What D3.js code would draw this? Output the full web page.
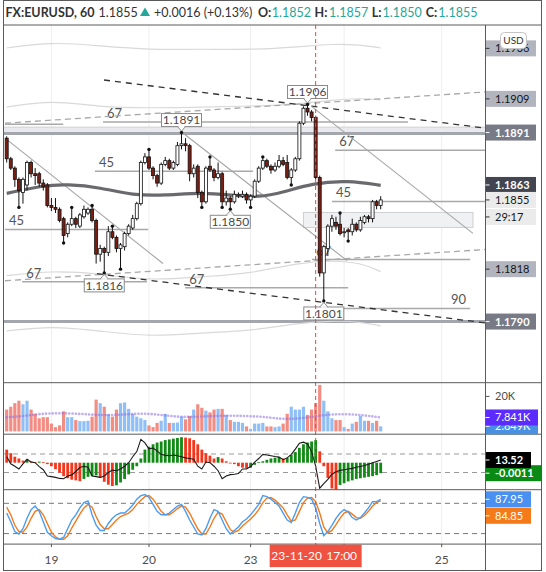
<!DOCTYPE html>
<html><head><meta charset="utf-8">
<script src="https://cdn.jsdelivr.net/npm/d3@7"></script>
<style>
body{margin:0;background:#fff;}
svg{display:block;font-family:Lato,"Open Sans",sans-serif;}
</style></head><body>
<svg id="chart" width="546" height="572"></svg>
<script>
// ---------------- DATA ----------------
const opens = [1.1888,1.1877,1.1872,1.1866,1.1859,1.1863,1.1875,1.1869,1.1869,1.1864,
1.1863,1.1852,1.1851,1.1850,1.1845,1.1837,1.1842,1.1845,1.1841,1.1846,
1.1848,1.1850,1.1844,1.1826,1.1829,1.1827,1.1838,1.1835,1.1829,1.1830,
1.1837,1.1840,1.1845,1.1853,1.1875,1.1878,1.1872,1.1868,1.1864,1.1874,
1.1876,1.1872,1.1874,1.1884,1.1885,1.1884,1.1869,1.1873,1.1859,1.1854,
1.1873,1.1871,1.1867,1.1869,1.1854,1.1856,1.1854,1.1858,1.1857,1.1858,
1.1855,1.1857,1.1865,1.1872,1.1876,1.1873,1.1871,1.1873,1.1876,1.1875,
1.1867,1.1871,1.1877,1.1896,1.1904,1.1902,1.1899,1.1867,1.1816,1.1829,
1.1841,1.1843,1.1842,1.1838,1.1839,1.1838,1.1842,1.1839,1.1843,1.1846,
1.1845,1.1854,1.1852];
const highs = [1.1889,1.1878,1.1873,1.1867,1.1867,1.1876,1.1876,1.1872,1.1870,1.1866,
1.1864,1.1856,1.1856,1.1851,1.1846,1.1843,1.1851,1.1846,1.1848,1.1852,
1.1851,1.1852,1.1845,1.1831,1.1830,1.1841,1.1841,1.1836,1.1832,1.1838,
1.1842,1.1847,1.1854,1.1876,1.1880,1.1882,1.1873,1.1869,1.1875,1.1878,
1.1877,1.1876,1.1886,1.1891,1.1888,1.1885,1.1874,1.1874,1.1860,1.1873,
1.1878,1.1872,1.1875,1.1870,1.1860,1.1857,1.1860,1.1859,1.1860,1.1859,
1.1858,1.1866,1.1873,1.1878,1.1877,1.1874,1.1875,1.1879,1.1878,1.1879,
1.1872,1.1878,1.1897,1.1905,1.1906,1.1903,1.1900,1.1868,1.1831,1.1842,
1.1847,1.1846,1.1848,1.1840,1.1840,1.1845,1.1843,1.1846,1.1847,1.1847,
1.1855,1.1855,1.1857];
const lows = [1.1875,1.1871,1.1862,1.1851,1.1853,1.1860,1.1867,1.1863,1.1862,1.1860,
1.1851,1.1849,1.1848,1.1843,1.1832,1.1835,1.1841,1.1840,1.1840,1.1845,
1.1847,1.1843,1.1821,1.1822,1.1816,1.1825,1.1834,1.1827,1.1818,1.1828,
1.1836,1.1839,1.1844,1.1852,1.1874,1.1871,1.1866,1.1862,1.1863,1.1873,
1.1871,1.1871,1.1873,1.1882,1.1881,1.1865,1.1867,1.1856,1.1851,1.1853,
1.1870,1.1865,1.1866,1.1851,1.1852,1.1850,1.1853,1.1856,1.1856,1.1853,
1.1851,1.1856,1.1864,1.1871,1.1872,1.1869,1.1870,1.1872,1.1873,1.1866,
1.1863,1.1870,1.1876,1.1895,1.1900,1.1897,1.1866,1.1814,1.1801,1.1825,
1.1838,1.1839,1.1836,1.1835,1.1833,1.1836,1.1838,1.1838,1.1842,1.1843,
1.1843,1.1850,1.1850];
const closes = [1.1877,1.1872,1.1866,1.1860,1.1866,1.1875,1.1869,1.1868,1.1864,1.1862,
1.1852,1.1851,1.1850,1.1844,1.1836,1.1842,1.1845,1.1842,1.1847,1.1850,
1.1850,1.1844,1.1826,1.1829,1.1827,1.1838,1.1835,1.1829,1.1831,1.1837,
1.1841,1.1845,1.1853,1.1875,1.1878,1.1872,1.1868,1.1864,1.1874,1.1876,
1.1872,1.1875,1.1884,1.1885,1.1884,1.1869,1.1872,1.1859,1.1854,1.1872,
1.1871,1.1867,1.1869,1.1854,1.1856,1.1854,1.1858,1.1858,1.1858,1.1855,
1.1857,1.1865,1.1872,1.1876,1.1873,1.1871,1.1873,1.1876,1.1874,1.1867,
1.1871,1.1877,1.1896,1.1904,1.1902,1.1899,1.1867,1.1816,1.1830,1.1841,
1.1845,1.1841,1.1837,1.1838,1.1838,1.1842,1.1839,1.1844,1.1846,1.1845,
1.1854,1.1852,1.1855];

const volumes = [12.3,13.9,15.9,17.3,15.3,17.3,12.3,9.9,7.4,8.0,
8.0,4.4,2.4,3.4,11.3,8.0,8.0,6.4,5.8,5.8,
6.0,8.3,17.9,15.9,13.9,9.7,8.3,12.3,15.9,16.3,
12.7,9.9,8.3,7.4,6.4,3.4,2.4,4.8,6.0,9.9,
4.8,4.8,5.0,8.3,6.8,8.7,12.3,15.3,13.3,11.7,
10.7,12.3,12.7,12.7,9.3,6.4,5.4,5.4,4.8,2.8,
1.4,4.4,4.4,4.8,2.8,2.8,2.4,2.8,4.4,9.9,
13.9,12.3,12.3,13.9,9.3,12.3,15.9,26.2,17.3,11.3,
7.4,6.4,6.4,2.4,1.4,4.4,5.4,8.7,6.0,6.0,
4.8,6.0,2.85];
const volMaIdx = [0,5,8,13,18,23,28,33,38,43,48,53,58,63,68,73,78,83,88,92];
const volMa = [7.95,8.75,9.94,10.3,9.94,9.1,9.3,10.3,9.3,7.95,8.35,8.9,8.75,8.35,6.76,7.36,9.3,9.94,9.1,7.84];

const maIdx = [0,9,15,23,31,39,48,56,62,68,75,84,92];
const maVal = [1.18585,1.18628,1.18634,1.18617,1.18574,1.18574,1.18590,1.18574,1.18564,1.18590,1.18639,1.18655,1.18628];

const bandIdx = [0,11,23,35,48,60,72,80,87,92];
const bandUp2 = [1.19362,1.19395,1.19373,1.19352,1.19357,1.19352,1.19368,1.19384,1.19379,1.19362];
const bandUp1 = [1.19046,1.19084,1.19046,1.19041,1.19046,1.19051,1.19062,1.19084,1.19094,1.19084];
const bandLo1 = [1.18145,1.18172,1.18156,1.18118,1.18140,1.18156,1.18215,1.18226,1.18215,1.18167];
const bandLo2 = [1.17850,1.17877,1.17850,1.17818,1.17840,1.17850,1.17893,1.17904,1.17899,1.17877];

const macdLine = [17.0,9.4,6.8,3.8,9.4,14.3,11.3,10.6,6.4,3.0,
-3.8,-4.5,-5.3,-6.4,-6.8,-3.8,-2.6,1.1,5.3,6.8,
5.7,-3.8,-4.5,-5.3,-3.8,0.0,2.6,1.9,3.8,6.8,
10.6,17.0,22.6,35.8,32.0,25.6,26.4,23.4,19.6,18.5,
18.1,18.9,18.1,17.0,15.8,15.1,14.3,6.8,3.8,11.3,
10.6,6.8,1.9,-6.8,-3.8,-2.3,-1.9,-1.1,3.8,3.8,
6.4,11.3,15.1,19.6,18.9,18.1,17.3,16.6,13.9,15.8,
19.6,25.3,31.7,32.8,30.9,22.6,6.8,-17.0,-12.1,-7.5,
-1.9,0.8,2.3,3.0,3.8,4.5,5.7,6.4,7.5,9.0,
10.5,12.0,13.52];
const macdHist = [0.00137,0.00100,0.00063,0.00044,0.00022,0.00033,0.00015,0.00007,0.00011,0.00007,
-0.00015,-0.00037,-0.00067,-0.00104,-0.00141,-0.00163,-0.00178,-0.00185,-0.00193,-0.00170,
-0.00148,-0.00141,-0.00133,-0.00159,-0.00200,-0.00230,-0.00244,-0.00237,-0.00207,-0.00170,
-0.00122,-0.00074,-0.00037,0.00044,0.00137,0.00167,0.00193,0.00211,0.00222,0.00237,
0.00244,0.00252,0.00259,0.00267,0.00263,0.00256,0.00237,0.00193,0.00137,0.00100,
0.00074,0.00044,0.00059,0.00044,0.00015,0.00000,-0.00015,-0.00037,-0.00052,-0.00059,
-0.00052,-0.00022,0.00007,0.00015,0.00030,0.00044,0.00052,0.00059,0.00044,0.00052,
0.00081,0.00111,0.00156,0.00193,0.00211,0.00222,0.00237,0.00119,-0.00037,-0.00159,
-0.00270,-0.00289,-0.00233,-0.00215,-0.00196,-0.00185,-0.00170,-0.00163,-0.00156,-0.00148,
-0.00141,-0.00130,-0.0011];

const stochK = [60.7,43.4,24.1,19.2,29.6,50.3,67.6,74.5,64.1,43.4,
22.7,15.8,10.3,8.9,12.4,29.6,46.9,57.2,71.0,81.4,
84.8,57.2,36.5,26.2,26.2,40.0,50.3,57.2,60.7,60.7,
67.6,76.5,88.3,95.2,97.2,91.7,77.9,64.1,57.2,57.2,
60.7,67.6,74.5,77.9,64.1,46.9,33.1,19.2,17.2,29.6,
50.3,67.6,64.1,46.9,29.6,19.2,26.2,33.1,43.4,48.9,
57.2,67.6,77.9,95.2,93.1,88.3,81.4,74.5,60.7,46.9,
42.0,60.7,81.4,93.1,91.7,88.3,71.0,40.0,15.8,24.1,
36.5,50.3,60.7,67.6,62.7,51.7,46.9,51.7,60.7,71.0,
83.4,83.4,87.95];
const stochD = [72.4,57.2,36.5,24.1,22.7,33.1,50.3,64.1,67.6,57.2,
40.0,22.7,13.7,8.9,8.9,15.8,31.0,44.8,58.6,71.0,
77.9,72.4,53.8,37.9,29.6,29.6,37.9,46.9,53.8,57.2,
60.7,67.6,77.9,86.2,93.1,95.2,88.3,76.5,64.1,57.2,
57.2,62.7,69.6,74.5,72.4,60.7,44.8,29.6,19.2,19.2,
33.1,50.3,62.7,58.6,43.4,28.2,22.7,26.2,35.1,42.0,
48.9,57.2,67.6,81.4,90.3,91.7,86.2,79.3,71.0,57.2,
44.8,46.9,64.1,81.4,90.3,91.7,83.4,60.7,33.1,21.3,
26.2,37.9,50.3,60.7,64.1,58.6,51.7,50.3,55.8,64.1,
74.5,81.4,84.85];

// day ticks: label '' where the reference hides it behind the crosshair date
const timeTickIdx = [11,35,60,83,107];
const timeTickLbl = ['19','20','23','','25'];
const crossIdx = 76;
const crossDate = '23-11-20';
const crossTime = '17:00';

// price ticks whose labels are visible in the reference
const priceTicks = [1.1760,1.1780,1.1800,1.1840,1.1880,1.1900,1.1920];

const pivots = [[3,'L'],[14,'L'],[16,'H'],[21,'H'],[24,'L'],[26,'H'],[28,'L'],[35,'H'],[43,'H'],[48,'L'],[50,'H'],[53,'L'],[55,'L'],[60,'L'],[63,'H'],[70,'L'],[74,'H'],[78,'L'],[82,'H'],[84,'L']];
const callouts = [[74,'H'],[43,'H'],[55,'L'],[24,'L'],[78,'L']];

const blackDashed = [[23.94,1.19191,117.7,1.18934],[22.2,1.18156,117.7,1.17893]];
const grayDashed = [[-0.42,1.18960,117.7,1.19127],[-0.42,1.18118,117.7,1.18285]];
const grayDiag = [[-0.42,1.18880,38.45,1.18210],[43.1,1.18912,83.7,1.18226],[74.9,1.19051,114.7,1.18371]];
const levels = [[23.7,98.7,1.18966,'67','start'],[-0.42,13.9,1.18955,'','start'],[80.8,118,1.18815,'67','start'],
[21.7,60.6,1.18703,'45','start'],[-0.42,34.8,1.18392,'45','start'],[80,118,1.18542,'45','start'],
[3.8,34.5,1.18113,'67','start'],[43.9,84,1.18081,'67','start'],[75.1,114,1.18231,'67','start'],[79,114,1.17970,'90','end']];
const zoneTop = 1.18939, zoneLine = 1.18905, lowLine = 1.1790;
const boxRect = [73,114.7,1.18483,1.18403];

const axisMarks = [
 [1.1936,'1.1936','#b2b5be','#131722',false],
 [1.1909,'1.1909','#b2b5be','#131722',false],
 [1.1891,'1.1891','#787b86','#ffffff',true],
 [1.1863,'1.1863','#434651','#ffffff',true],
 [1.1855,'1.1855','#ebebeb','#131722',false],
 [1.1818,'1.1818','#b2b5be','#131722',false],
 [1.1790,'1.1790','#787b86','#ffffff',true]];
const countdown = '29:17';
const volMarks = [[2.85,'2.849K','#4a90e2'],[7.841,'7.841K','#5b2bff']];
const macdMarks = [['hist',-0.0011,'-0.0011','#0a8a14'],['line',13.52,'13.52','#000000']];
const stochMarks = [[87.95,'87.95','#4a90f0'],[84.85,'84.85','#f57a1a']];

// ---------------- LAYOUT ----------------
const L = {left:4, right:485.5, frameR:541.5, top:25, mainB:382.7, volB:434.2, macdB:489.7, stB:544.1, bottom:570.5};
const svg = d3.select('#chart');
const x = d3.scaleLinear().domain([0,92]).range([6.7,380.7]);
const y = d3.scaleLinear().domain([1.1760,1.1920]).range([377.7,78.3]);
const yVol = d3.scaleLinear().domain([0,20]).range([431.4,395.9]);
const yMacd = d3.scaleLinear().domain([0,20]).range([472.5,454]);
const yHist = d3.scaleLinear().domain([0,-0.0011]).range([462.7,473.2]);
const ySt = d3.scaleLinear().domain([20,80]).range([533.6,503.3]);
const f4 = d3.format('.4f');

const defs = svg.append('defs');
function clip(id,y0,y1,x0=L.left,x1=L.right){defs.append('clipPath').attr('id',id).append('rect').attr('x',x0).attr('y',y0).attr('width',x1-x0).attr('height',y1-y0);}
clip('cMain',L.top,L.mainB); clip('cVol',L.mainB,L.volB); clip('cMacd',L.volB,L.macdB); clip('cSt',L.macdB,L.stB);
clip('cAxis',L.top,L.mainB,L.right,L.frameR);

svg.append('rect').attr('width',546).attr('height',572).attr('fill','#fff');

svg.append('g').selectAll('line').data(timeTickIdx).join('line')
 .attr('x1',d=>x(d)).attr('x2',d=>x(d)).attr('y1',L.top).attr('y2',L.stB)
 .attr('stroke','#eeeeee').attr('stroke-width',1);

// ---------------- MAIN PANE ----------------
const main = svg.append('g').attr('clip-path','url(#cMain)');
main.append('rect').attr('x',L.left).attr('width',L.right-L.left).attr('y',y(zoneTop)).attr('height',y(zoneLine)-y(zoneTop)).attr('fill','#e9eaed');
main.append('line').attr('x1',L.left).attr('x2',L.right).attr('y1',y(zoneTop)).attr('y2',y(zoneTop)).attr('stroke','#d0d1d6').attr('stroke-width',1);
main.append('line').attr('x1',L.left).attr('x2',L.right).attr('y1',y(zoneLine)).attr('y2',y(zoneLine)).attr('stroke','#a4a6ad').attr('stroke-width',3);
main.append('line').attr('x1',L.left).attr('x2',L.right).attr('y1',y(lowLine)).attr('y2',y(lowLine)).attr('stroke','#a4a6ad').attr('stroke-width',3);
main.append('rect').attr('x',x(boxRect[0])).attr('width',x(boxRect[1])-x(boxRect[0])).attr('y',y(boxRect[2])).attr('height',y(boxRect[3])-y(boxRect[2])).attr('fill','#f0f1f3').attr('stroke','#cfd0d4').attr('stroke-width',1);
const bandLine = d3.line().x((d,k)=>x(bandIdx[k])).y(d=>y(d)).curve(d3.curveBasis);
[bandUp2,bandUp1,bandLo1,bandLo2].forEach(b=>main.append('path').attr('d',bandLine(b)).attr('fill','none').attr('stroke','#d9d9d9').attr('stroke-width',1.2));
levels.forEach(([i1,i2,p,lbl,al])=>{
  main.append('line').attr('x1',x(i1)).attr('x2',x(i2)).attr('y1',y(p)).attr('y2',y(p)).attr('stroke','#a9a9a9').attr('stroke-width',1.5);
  if(lbl) main.append('text').attr('x',al==='start'?x(i1)+4:x(i2)-4).attr('y',y(p)-4).attr('text-anchor',al).attr('font-size',13).attr('fill','#555').text(lbl);
});
grayDashed.forEach(d=>main.append('line').attr('x1',x(d[0])).attr('y1',y(d[1])).attr('x2',x(d[2])).attr('y2',y(d[3])).attr('stroke','#a8a8a8').attr('stroke-width',1.3).attr('stroke-dasharray','6,4'));
blackDashed.forEach(d=>main.append('line').attr('x1',x(d[0])).attr('y1',y(d[1])).attr('x2',x(d[2])).attr('y2',y(d[3])).attr('stroke','#333').attr('stroke-width',1.3).attr('stroke-dasharray','6,5'));
grayDiag.forEach(d=>main.append('line').attr('x1',x(d[0])).attr('y1',y(d[1])).attr('x2',x(d[2])).attr('y2',y(d[3])).attr('stroke','#a6a6a6').attr('stroke-width',1.1));
main.append('path').attr('d',d3.line().x((d,k)=>x(maIdx[k])).y(d=>y(d)).curve(d3.curveBasis)(maVal)).attr('fill','none').attr('stroke','#6a6a6e').attr('stroke-width',3.2);
const candles = d3.range(opens.length).map(i=>({i,o:opens[i],h:highs[i],l:lows[i],c:closes[i]}));
main.append('g').selectAll('line').data(candles).join('line')
 .attr('x1',d=>x(d.i)).attr('x2',d=>x(d.i)).attr('y1',d=>y(d.h)).attr('y2',d=>y(d.l)).attr('stroke','#111').attr('stroke-width',1);
main.append('g').selectAll('rect').data(candles).join('rect')
 .attr('x',d=>x(d.i)-1.5).attr('width',3)
 .attr('y',d=>y(Math.max(d.o,d.c))).attr('height',d=>Math.max(1,Math.abs(y(d.o)-y(d.c))))
 .attr('fill',d=>d.c>=d.o?'#ffffff':'#7b1e12').attr('stroke','#111').attr('stroke-width',0.8);
main.append('g').selectAll('circle').data(pivots).join('circle')
 .attr('cx',d=>x(d[0])).attr('cy',d=>d[1]==='H'?y(highs[d[0]]):y(lows[d[0]])).attr('r',1.7).attr('fill','#111');
callouts.forEach(([i,t])=>{
  const v = t==='H'?highs[i]:lows[i];
  const px = x(i), py = y(v), bw=40, bh=13;
  const by = t==='H'? py-6-bh : py+6;
  const edge = t==='H'? by+bh : by;
  const tip = t==='H'? py-1.5 : py+1.5;
  main.append('path').attr('d',`M${px-4},${edge}L${px},${tip}L${px+4},${edge}`).attr('fill','#fff').attr('stroke','#8a8a8a').attr('stroke-width',1);
  main.append('rect').attr('x',px-bw/2).attr('y',by).attr('width',bw).attr('height',bh).attr('fill','#fff').attr('stroke','#8a8a8a').attr('stroke-width',1);
  main.append('path').attr('d',`M${px-3},${edge}L${px+3},${edge}`).attr('stroke','#fff').attr('stroke-width',1.5);
  main.append('text').attr('x',px).attr('y',by+bh/2).attr('dy','0.36em').attr('text-anchor','middle').attr('font-size',12).attr('fill','#4a4a4a').text(f4(v));
});

// ---------------- VOLUME ----------------
const vol = svg.append('g').attr('clip-path','url(#cVol)');
vol.selectAll('rect').data(volumes).join('rect')
 .attr('x',(d,i)=>x(i)-1.6).attr('width',3.2).attr('y',d=>yVol(d)).attr('height',d=>yVol(0)-yVol(d))
 .attr('fill',(d,i)=>closes[i]>=opens[i]?'#90bff5':'#f28d84');
vol.append('path').attr('d',d3.line().x((d,k)=>x(volMaIdx[k])).y(d=>yVol(d)).curve(d3.curveBasis)(volMa))
 .attr('fill','none').attr('stroke','rgba(140,110,225,0.55)').attr('stroke-width',2.6).attr('stroke-linecap','round').attr('stroke-dasharray','0.1,3.2');

// ---------------- MACD-like ----------------
const macd = svg.append('g').attr('clip-path','url(#cMacd)');
[yMacd(20),yMacd(0)].forEach(v=>macd.append('line').attr('x1',L.left).attr('x2',L.right).attr('y1',v).attr('y2',v).attr('stroke','#999').attr('stroke-dasharray','5,4').attr('stroke-width',1));
macd.selectAll('rect').data(macdHist).join('rect')
 .attr('x',(d,i)=>x(i)-1.4).attr('width',2.8)
 .attr('y',d=>Math.min(yHist(d),yHist(0))).attr('height',d=>Math.max(0.8,Math.abs(yHist(d)-yHist(0))))
 .attr('fill',(d,i)=>(i>0 && d>=macdHist[i-1])?'#128a16':'#f4361c');
macd.append('path').attr('d',d3.line().x((d,i)=>x(i)).y(d=>yMacd(d))(macdLine)).attr('fill','none').attr('stroke','#1a1a1a').attr('stroke-width',1.1);

// ---------------- STOCH ----------------
const st = svg.append('g').attr('clip-path','url(#cSt)');
[ySt(80),ySt(20)].forEach(v=>st.append('line').attr('x1',L.left).attr('x2',L.right).attr('y1',v).attr('y2',v).attr('stroke','#777').attr('stroke-dasharray','5,4').attr('stroke-width',1));
st.append('path').attr('d',d3.line().x((d,i)=>x(i)).y(d=>ySt(d))(stochD)).attr('fill','none').attr('stroke','#f57a1a').attr('stroke-width',1.4);
st.append('path').attr('d',d3.line().x((d,i)=>x(i)).y(d=>ySt(d))(stochK)).attr('fill','none').attr('stroke','#4a9cf2').attr('stroke-width',1.4);

svg.append('line').attr('x1',x(crossIdx)).attr('x2',x(crossIdx)).attr('y1',L.top).attr('y2',L.stB+4)
 .attr('stroke','#e8473a').attr('stroke-width',1).attr('stroke-dasharray','4,3');

// ---------------- PANE FRAMES ----------------
const fr = svg.append('g').attr('stroke','#5a5a5a').attr('stroke-width',1).attr('fill','none');
fr.append('rect').attr('x',3.5).attr('y',0.5).attr('width',L.frameR-3.5).attr('height',L.bottom-0.5);
[L.top,L.mainB,L.volB,L.macdB,L.stB].forEach(v=>fr.append('line').attr('x1',L.left).attr('x2',L.frameR).attr('y1',v).attr('y2',v));
fr.append('line').attr('x1',L.right).attr('x2',L.right).attr('y1',L.top).attr('y2',L.bottom);

// ---------------- PRICE AXIS ----------------
const ax = svg.append('g').attr('clip-path','url(#cAxis)').attr('transform',`translate(${L.right},0)`)
 .call(d3.axisRight(y).tickValues(priceTicks).tickSize(4).tickPadding(5.5).tickFormat(f4));
ax.select('.domain').remove();
ax.selectAll('line').attr('stroke','#555');
ax.selectAll('text').attr('font-size',11).attr('fill','#4d4d4d').attr('font-family','Lato,sans-serif');

const va = svg.append('g').attr('transform',`translate(${L.right},0)`)
 .call(d3.axisRight(yVol).tickValues([20]).tickSize(4).tickPadding(5.5).tickFormat(d=>d+'K'));
va.select('.domain').remove();
va.selectAll('line').attr('stroke','#555');
va.selectAll('text').attr('font-size',11).attr('fill','#4d4d4d').attr('font-family','Lato,sans-serif');

function mark(cy,txt,bg,fg,bold,w=50){
  const g = svg.append('g');
  g.append('rect').attr('x',L.right+0.5).attr('y',cy-8).attr('width',w).attr('height',16).attr('fill',bg);
  g.append('line').attr('x1',L.right).attr('x2',L.right+4).attr('y1',cy).attr('y2',cy).attr('stroke',fg==='#ffffff'?'#fff':'#333');
  g.append('text').attr('x',L.right+9.5).attr('y',cy).attr('dy','0.36em').attr('font-size',11).attr('font-weight',bold?'bold':'normal').attr('fill',fg).text(txt);
  return cy+8;
}
axisMarks.forEach(m=>mark(y(m[0]),m[1],m[2],m[3],m[4]));
mark(y(1.1855)+17,countdown,'#ebebeb','#131722',false);
svg.append('rect').attr('x',500.5).attr('y',32.5).attr('width',26).attr('height',16).attr('rx',4).attr('fill','#fff').attr('stroke','#c4c4c4');
svg.append('text').attr('x',513.5).attr('y',40.5).attr('dy','0.36em').attr('text-anchor','middle').attr('font-size',10).attr('fill','#333').text('USD');

volMarks.forEach(m=>mark(yVol(m[0]),m[1],m[2],'#ffffff',false,52));
macdMarks.forEach(m=>mark(m[0]==='hist'?yHist(m[1]):yMacd(m[1]),m[2],m[3],'#ffffff',true,m[0]==='hist'?56:45));
let prevB = -1e9;
stochMarks.forEach(m=>{let cy=ySt(m[0]); if(cy-8<prevB) cy=prevB+8+0.5; prevB=mark(cy,m[1],m[2],'#ffffff',false,45);});

// ---------------- TIME AXIS ----------------
const ta = svg.append('g');
timeTickIdx.forEach((t,k)=>{
  ta.append('line').attr('x1',x(t)).attr('x2',x(t)).attr('y1',L.stB).attr('y2',L.stB+3).attr('stroke','#555');
  if(timeTickLbl[k]) ta.append('text').attr('x',x(t)).attr('y',559.5).attr('dy','0.36em').attr('text-anchor','middle').attr('font-size',12).attr('fill','#4d4d4d').text(timeTickLbl[k]);
});
const cx = x(crossIdx);
ta.append('rect').attr('x',cx-46).attr('y',L.stB+0.5).attr('width',92).attr('height',22.5).attr('fill','#ef5240');
ta.append('text').attr('x',cx-19).attr('y',556).attr('dy','0.36em').attr('text-anchor','middle').attr('font-size',12).attr('fill','#fff').text(crossDate);
ta.append('text').attr('x',cx+26).attr('y',556).attr('dy','0.36em').attr('text-anchor','middle').attr('font-size',12).attr('fill','#fff').text(crossTime);

// ---------------- HEADER ----------------
const last = opens.length-1;
const teal = '#26a69a';
const hdr = svg.append('g').attr('font-size',12.5);
const hy = 16.5;
hdr.append('text').attr('x',5.5).attr('y',hy).attr('font-weight','bold').attr('fill','#333').text('FX:EURUSD, 60');
hdr.append('text').attr('x',98.6).attr('y',hy).attr('fill','#333').text(f4(closes[last]));
hdr.append('path').attr('d','M140,16L145,7.5L150,16Z').attr('fill',teal);
hdr.append('text').attr('x',154).attr('y',hy).attr('fill','#333').text('+0.0016 (+0.13%)');
[['O:',258,opens[last],271.8],['H:',314.6,highs[last],329],['L:',371.8,lows[last],382.6],['C:',425.8,closes[last],438.3]].forEach(([k,kx,v,vx])=>{
  hdr.append('text').attr('x',kx).attr('y',hy).attr('font-weight','bold').attr('fill','#333').text(k);
  hdr.append('text').attr('x',vx).attr('y',hy).attr('fill',teal).text(f4(v));
});
</script>
</body></html>
